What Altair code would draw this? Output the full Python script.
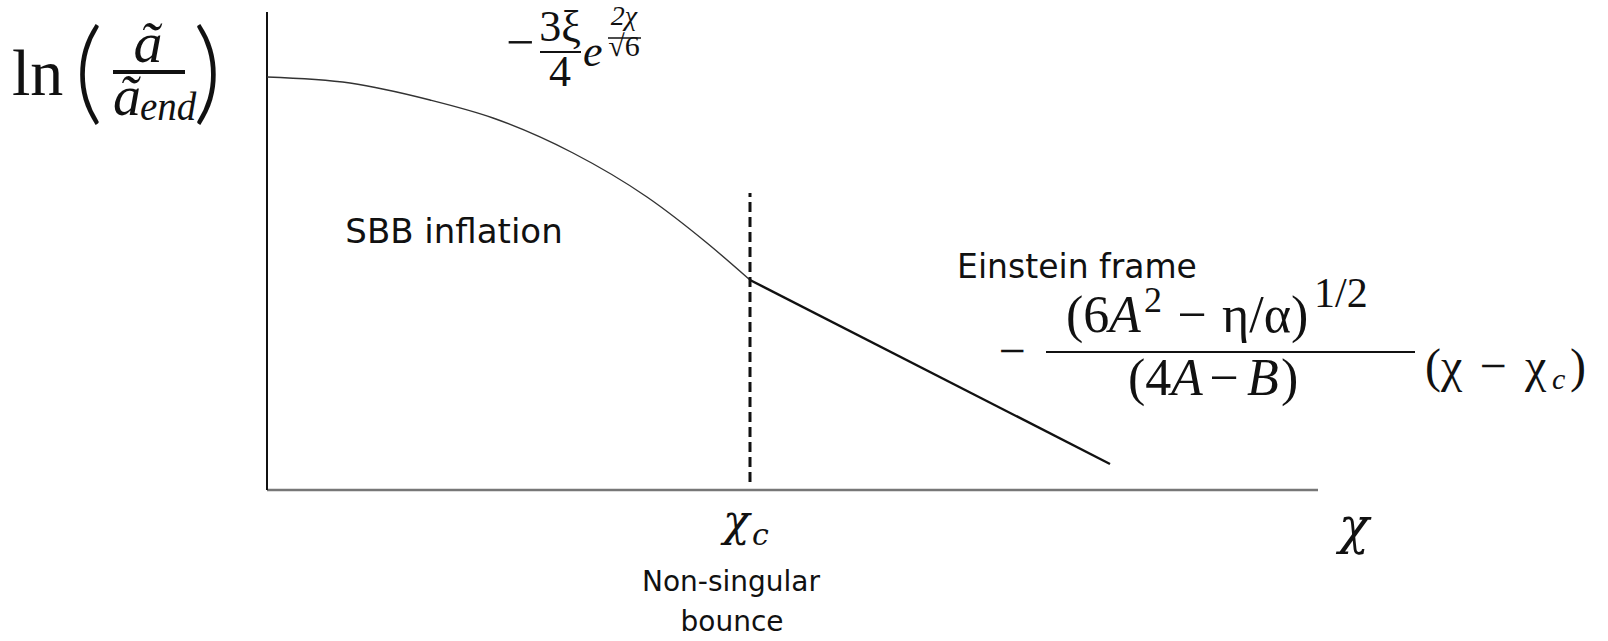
import altair as alt
import pandas as pd

# Schematic scale-factor evolution: ln(a/a_end) versus chi (arbitrary units)
chi_curve = [0.0, 0.83, 1.63, 2.26, 3.06, 3.80, 4.40, 4.83]
lna_curve = [4.13, 4.07, 3.90, 3.72, 3.37, 2.93, 2.47, 2.10]

chi_line = [4.83, 8.43]
lna_line = [2.10, 0.26]

chi_c = 4.83
bounce_span = [0.08, 2.97]

x_axis_end = 10.51
y_axis_top = 4.78

xs = alt.Scale(domain=[-2.67, 13.41], nice=False, zero=False)
ys = alt.Scale(domain=[-1.51, 4.90], nice=False, zero=False)

SERIF = "Liberation Serif"
MATH = "DejaVu Serif"
SANS = "DejaVu Sans"


def X(field="x"):
    return alt.X(f"{field}:Q", scale=xs, axis=None)


def Y(field="y"):
    return alt.Y(f"{field}:Q", scale=ys, axis=None)


layers = []

# axes
axes_df = pd.DataFrame({"x": [0.0], "x2": [x_axis_end], "y": [0.0], "y2": [y_axis_top]})
layers.append(alt.Chart(axes_df).mark_rule(color="#777", strokeWidth=2.5).encode(
    x=X(), x2="x2:Q", y=Y()))
layers.append(alt.Chart(axes_df).mark_rule(color="#111", strokeWidth=2).encode(
    x=X(), y=Y(), y2="y2:Q"))

# inflationary branch
curve_df = pd.DataFrame({"x": chi_curve, "y": lna_curve})
layers.append(alt.Chart(curve_df).mark_line(color="#333", strokeWidth=1.4,
                                            interpolate="monotone").encode(x=X(), y=Y()))

# Einstein-frame branch after the bounce
line_df = pd.DataFrame({"x": chi_line, "y": lna_line})
layers.append(alt.Chart(line_df).mark_line(color="#111", strokeWidth=2.4).encode(x=X(), y=Y()))

# bounce marker
bounce_df = pd.DataFrame({"x": [chi_c], "y": [bounce_span[0]], "y2": [bounce_span[1]]})
layers.append(alt.Chart(bounce_df).mark_rule(color="#111", strokeWidth=3,
                                             strokeDash=[10, 5]).encode(
    x=X(), y=Y(), y2="y2:Q"))

# fraction bars of the formulas: (x_start, x_end, y, thickness)
bars = [
    (-1.54, -0.82, 4.18, 4.0),
    (2.73, 3.14, 4.38, 2.0),
    (3.41, 3.74, 4.52, 1.6),
    (7.79, 11.48, 1.38, 2.2),
]
for x0, x1, yb, w in bars:
    df = pd.DataFrame({"x": [x0], "x2": [x1], "y": [yb]})
    layers.append(alt.Chart(df).mark_rule(color="#111", strokeWidth=w).encode(
        x=X(), x2="x2:Q", y=Y()))

# text pieces: (text, x, y, size, font, style, align, weight)
texts = [
    # y-axis label ln(a~/a~_end)
    ("ln", -2.55, 3.95, 66, SERIF, "normal", "left", 400),
    ("(", -1.93, 3.80, 112, "Lato", "normal", "left", 300),
    (")", -0.45, 3.80, 112, "Lato", "normal", "right", 300),
    ("ã", -1.19, 4.28, 58, SERIF, "italic", "center", 400),
    ("ã", -1.54, 3.75, 56, SERIF, "italic", "left", 400),
    ("end", -1.27, 3.70, 39, SERIF, "italic", "left", 400),
    # -3xi/4 e^{2chi/sqrt6}
    ("−", 2.53, 4.31, 50, SERIF, "normal", "center", 400),
    ("3ξ", 2.93, 4.49, 44, SERIF, "normal", "center", 400),
    ("4", 2.93, 4.04, 44, SERIF, "normal", "center", 400),
    ("e", 3.16, 4.24, 44, SERIF, "italic", "left", 400),
    ("2χ", 3.57, 4.65, 28, SERIF, "italic", "center", 400),
    ("√6", 3.57, 4.34, 30, SERIF, "normal", "center", 400),
    # region labels
    ("SBB inflation", 1.87, 2.47, 34, SANS, "normal", "center", 400),
    ("Einstein frame", 8.10, 2.12, 33, SANS, "normal", "center", 400),
    ("Non-singular", 4.64, -1.01, 28, SANS, "normal", "center", 400),
    ("bounce", 4.65, -1.41, 28, SANS, "normal", "center", 400),
    # chi_c and chi on the horizontal axis
    ("χ", 4.56, -0.46, 44, MATH, "italic", "left", 400),
    ("c", 4.85, -0.55, 30, MATH, "italic", "left", 400),
    ("χ", 10.87, -0.53, 50, MATH, "italic", "center", 400),
    # -(6A^2 - eta/alpha)^{1/2}/(4A - B) (chi - chi_c)
    ("−", 7.45, 1.23, 48, SERIF, "normal", "center", 400),
    ("(6", 7.99, 1.58, 52, SERIF, "normal", "left", 400),
    ("A", 8.42, 1.58, 52, SERIF, "italic", "left", 400),
    ("2", 8.77, 1.78, 36, SERIF, "normal", "left", 400),
    ("−", 9.25, 1.58, 52, SERIF, "normal", "center", 400),
    ("η/α)", 9.55, 1.58, 52, SERIF, "normal", "left", 400),
    ("1/2", 10.47, 1.83, 42, SERIF, "normal", "left", 400),
    ("(4", 8.61, 0.95, 52, SERIF, "normal", "left", 400),
    ("A", 9.04, 0.95, 52, SERIF, "italic", "left", 400),
    ("−", 9.57, 0.95, 52, SERIF, "normal", "center", 400),
    ("B", 9.80, 0.95, 52, SERIF, "italic", "left", 400),
    (")", 10.14, 0.95, 52, SERIF, "normal", "left", 400),
    ("(χ", 11.58, 1.08, 48, SERIF, "normal", "left", 400),
    ("−", 12.26, 1.08, 48, SERIF, "normal", "center", 400),
    ("χ", 12.58, 1.08, 48, SERIF, "normal", "left", 400),
    ("c", 12.85, 1.01, 30, SERIF, "italic", "left", 400),
    (")", 13.03, 1.08, 48, SERIF, "normal", "left", 400),
]

for t, x, y, size, font, style, align, weight in texts:
    df = pd.DataFrame({"x": [x], "y": [y], "t": [t]})
    layers.append(alt.Chart(df).mark_text(
        font=font, fontSize=size, fontStyle=style, fontWeight=weight, align=align,
        baseline="alphabetic", color="#111").encode(x=X(), y=Y(), text="t:N"))

chart = alt.layer(*layers).properties(
    width=1608, height=641, padding=0,
    autosize=alt.AutoSizeParams(type="none"),
    background="white",
).configure_view(stroke=None)

chart.save("out.html", embed_options={"renderer": "svg", "actions": False})
